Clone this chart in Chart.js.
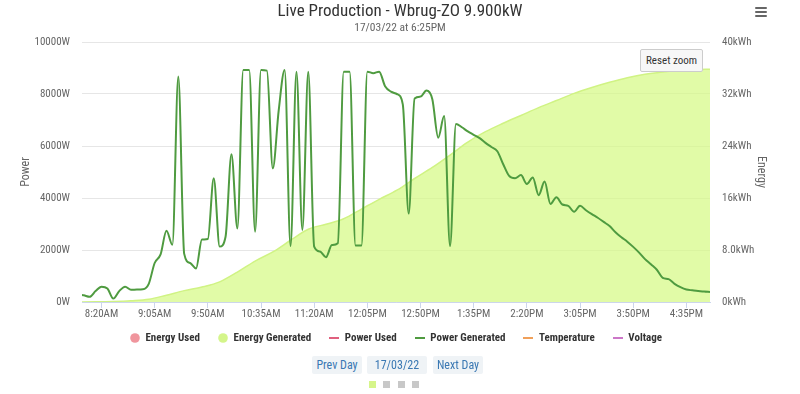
<!DOCTYPE html>
<html>
<head>
<meta charset="utf-8">
<script src="https://cdn.jsdelivr.net/npm/chart.js@4.4.1/dist/chart.umd.min.js"></script>
<style>
  html, body { margin: 0; padding: 0; background: #ffffff; }
  body { font-family: 'Roboto Condensed', 'Liberation Sans', Arial, sans-serif; }
  #wrap { position: relative; width: 800px; height: 394px; overflow: hidden; }
  #c { position: absolute; left: 0; top: 0; }
  .title { position: absolute; left: 0; top: 0; width: 800px; text-align: center; font-size: 17px; line-height: 21px; color: #333333; }
  .subtitle { position: absolute; left: 0; top: 20px; width: 800px; text-align: center; font-size: 11.5px; line-height: 14px; color: #666666; }
  .menu { position: absolute; left: 755px; top: 7px; width: 12px; }
  .menu div { height: 2px; background: #666666; margin-bottom: 2px; border-radius: 1px; }
  .reset { position: absolute; left: 640px; top: 49px; width: 61px; height: 21px; line-height: 21px; background: #f7f7f7; border: 1px solid #cccccc; border-radius: 2px; text-align: center; font-size: 11px; color: #333333; }
  .btn { position: absolute; top: 356px; height: 18px; line-height: 18px; background: #eff3f6; color: #3a78b3; font-size: 12px; text-align: center; border-radius: 2px; }
  .dot { position: absolute; top: 381px; width: 7px; height: 7px; background: #c8c8c8; }
</style>
</head>
<body>
<div id="wrap">
  <canvas id="c" width="800" height="394"></canvas>
  <div class="title">Live Production - Wbrug-ZO 9.900kW</div>
  <div class="subtitle">17/03/22 at 6:25PM</div>
  <div class="menu"><div></div><div></div><div></div></div>
  <div class="reset">Reset zoom</div>
  <div class="btn" style="left:312px;width:50px;">Prev Day</div>
  <div class="btn" style="left:367px;width:60px;">17/03/22</div>
  <div class="btn" style="left:433px;width:50px;">Next Day</div>
  <div class="dot" style="left:369px;background:#d6f58a;"></div>
  <div class="dot" style="left:383px;"></div>
  <div class="dot" style="left:398px;"></div>
  <div class="dot" style="left:412px;"></div>
</div>
<script>
// ---- data ----
const powerTimes = [
  "8:00","8:05","8:10","8:15","8:20","8:25","8:30","8:35","8:40","8:45","8:50","8:55",
  "9:00","9:05","9:10","9:15","9:20","9:25","9:30","9:35","9:40","9:45","9:50","9:55",
  "10:00","10:05","10:10","10:15","10:20","10:25","10:30","10:35","10:40","10:45","10:50","10:55",
  "11:00","11:05","11:10","11:15","11:20","11:25","11:30","11:35","11:40","11:45","11:50","11:55",
  "12:00","12:05","12:10","12:15","12:20","12:25","12:30","12:35","12:40","12:45","12:50","12:55",
  "13:00","13:05","13:10","13:15","13:20","13:25","13:30","13:35","13:40","13:45","13:50","13:55",
  "14:00","14:05","14:10","14:15","14:20","14:25","14:30","14:35","14:40","14:45","14:50","14:55",
  "15:00","15:05","15:10","15:15","15:20","15:25","15:30","15:35","15:40","15:45","15:50","15:55",
  "16:00","16:05","16:10","16:15","16:20","16:25","16:30","16:35","16:40","16:45","16:50","16:55"
];
const powerGenerated = [
  300, 260, 200, 420, 590, 520, 130, 420, 590, 470, 480, 490,
  700, 1500, 1830, 2740, 2200, 8670, 1850, 1500, 1290, 2400, 2420, 4760,
  2130, 2510, 5680, 2830, 8920, 8920, 2700, 8920, 8900, 5140, 7380, 8920,
  2150, 8860, 2770, 8860, 2130, 1940, 1720, 2190, 2260, 8860, 8860, 2170,
  2170, 8860, 8800, 8860, 8300, 8090, 8000, 7600, 3400, 7830, 7900, 8130,
  7800, 6320, 7150, 2150, 6850, 6720, 6560, 6430, 6300, 6120, 5960, 5800,
  5300, 4850, 4760, 4880, 4540, 4790, 4110, 4630, 3770, 4030, 3750, 3700,
  3470, 3700, 3530, 3380, 3240, 3080, 2920, 2680, 2490, 2320, 2120, 1900,
  1650, 1450, 1240, 930, 880, 700, 570, 480, 450, 425, 400, 385
];
const energyTimes = [
  "8:00","8:15","8:30","8:45","9:00","9:15","9:30","9:45","10:00","10:15","10:30","10:45",
  "11:00","11:15","11:30","11:45","12:00","12:15","12:30","12:45","13:00","13:15","13:30","13:45",
  "14:00","14:15","14:30","14:45","15:00","15:15","15:30","15:45","16:00","16:15","16:30","16:45","16:55"
];
const energyGenerated = [
  0.0, 0.02, 0.08, 0.2, 0.42, 1.05, 1.75, 2.3, 3.1, 4.6, 6.3, 7.7,
  9.5, 11.2, 11.95, 12.8, 14.3, 15.8, 17.2, 19.0, 20.7, 22.6, 24.6, 26.2,
  27.5, 28.7, 29.9, 31.0, 32.1, 33.0, 33.8, 34.5, 35.05, 35.4, 35.65, 35.78, 35.82
];
const xTickTimes  = ["8:20","9:05","9:50","10:35","11:20","12:05","12:50","13:35","14:20","15:05","15:50","16:35"];
const xTickLabels = ["8:20AM","9:05AM","9:50AM","10:35AM","11:20AM","12:05PM","12:50PM","1:35PM","2:20PM","3:05PM","3:50PM","4:35PM"];
const powerTickLabels  = ["0W","2000W","4000W","6000W","8000W","10000W"];
const energyTickLabels = ["0kWh","8.0kWh","16kWh","24kWh","32kWh","40kWh"];
const legendNames  = ["Energy Used","Energy Generated","Power Used","Power Generated","Temperature","Voltage"];

// ---- helpers ----
function toMin(s) { const p = s.split(":"); return (+p[0]) * 60 + (+p[1]); }
const FONT = "'Roboto Condensed', 'Liberation Sans', Arial, sans-serif";
Chart.defaults.font.family = FONT;
const LEG_FONT = 11, LEG_PAD = 18;

const COL = {
  energyUsed: '#f0959d', energyGen: '#d4f58a', powerUsed: '#e0607e',
  powerGen: '#4f9b40', temp: '#f0a05a', volt: '#cc77c8'
};

function marker(kind, color) {
  const c = document.createElement('canvas');
  c.width = 10; c.height = 10;
  const g = c.getContext('2d');
  g.fillStyle = color;
  if (kind === 'circle') { g.beginPath(); g.arc(5, 5, 4.8, 0, Math.PI * 2); g.fill(); }
  else { g.fillRect(0, 4, 10, 2); }
  return c;
}

const powerData = powerTimes.map((t, i) => ({ x: toMin(t), y: powerGenerated[i] }));
const energyData = energyTimes.map((t, i) => ({ x: toMin(t), y: energyGenerated[i] }));
const xTickValues = xTickTimes.map(toMin);

const legendSpec = [
  { ds: 2, kind: 'circle', color: COL.energyUsed },
  { ds: 1, kind: 'circle', color: COL.energyGen },
  { ds: 3, kind: 'line', color: COL.powerUsed },
  { ds: 0, kind: 'line', color: COL.powerGen },
  { ds: 4, kind: 'line', color: COL.temp },
  { ds: 5, kind: 'line', color: COL.volt }
];
const legendMarkers = legendSpec.map(s => marker(s.kind, s.color));

const legendShift = {
  id: 'legendShift',
  afterLayout(chart) {
    const lg = chart.legend;
    if (!lg) return;
    const cur = lg.top + LEG_PAD + LEG_FONT / 2;
    const d = cur - 338;
    lg.top -= d; lg.bottom -= d;
    lg.left -= 4; lg.right -= 4;
  }
};

new Chart(document.getElementById('c'), {
  type: 'line',
  plugins: [legendShift],
  data: {
    datasets: [
      { label: 'Power Generated', data: powerData, yAxisID: 'y', borderColor: COL.powerGen,
        borderWidth: 2, pointRadius: 0, fill: false, cubicInterpolationMode: 'monotone' },
      { label: 'Energy Generated', data: energyData, yAxisID: 'y1', borderColor: '#d0f384',
        backgroundColor: 'rgba(212,250,130,0.7)', borderWidth: 1.5, pointRadius: 0,
        fill: 'origin', cubicInterpolationMode: 'monotone' },
      { label: 'Energy Used', data: [], yAxisID: 'y1', borderColor: COL.energyUsed, pointRadius: 0 },
      { label: 'Power Used', data: [], yAxisID: 'y', borderColor: COL.powerUsed, pointRadius: 0 },
      { label: 'Temperature', data: [], yAxisID: 'y', borderColor: COL.temp, pointRadius: 0 },
      { label: 'Voltage', data: [], yAxisID: 'y', borderColor: COL.volt, pointRadius: 0 }
    ]
  },
  options: {
    responsive: false,
    animation: false,
    devicePixelRatio: 1,
    events: [],
    layout: { padding: { top: 42, left: 0, right: 0, bottom: 66 - (LEG_FONT + LEG_PAD + 10) } },
    scales: {
      x: {
        type: 'linear', min: 483.5, max: 1015,
        afterBuildTicks: (s) => { s.ticks = xTickValues.map(v => ({ value: v })); },
        afterFit: (s) => { s.height = 26; },
        ticks: { autoSkip: false, maxRotation: 0, padding: 0, color: '#666666',
                 font: { size: 11 }, callback: (v, i) => xTickLabels[i] },
        grid: { drawOnChartArea: false, drawTicks: true, tickLength: 6, color: '#ccd6eb' },
        border: { display: true, color: '#ccd6eb' }
      },
      y: {
        position: 'left', min: 0, max: 10000,
        ticks: { stepSize: 2000, padding: 12, color: '#666666', font: { size: 11 },
                 callback: (v, i) => powerTickLabels[i] },
        grid: { color: '#e6e6e6', drawTicks: false },
        border: { display: false },
        title: { display: true, text: 'Power', color: '#666666', font: { size: 12 },
                 padding: { top: 19, bottom: 0 } },
        afterFit: (s) => { s.width = 82; }
      },
      y1: {
        position: 'right', min: 0, max: 40,
        ticks: { stepSize: 8, padding: 12, color: '#666666', font: { size: 11 },
                 callback: (v, i) => energyTickLabels[i] },
        grid: { drawOnChartArea: false, drawTicks: false },
        border: { display: false },
        title: { display: true, text: 'Energy', color: '#666666', font: { size: 12 },
                 padding: { top: 32, bottom: 0 } },
        afterFit: (s) => { s.width = 90; }
      }
    },
    plugins: {
      tooltip: { enabled: false },
      legend: {
        position: 'bottom',
        labels: {
          usePointStyle: true, pointStyleWidth: 10, boxHeight: LEG_FONT, padding: LEG_PAD,
          color: '#333333', font: { size: LEG_FONT, weight: 'bold' },
          generateLabels: () => legendSpec.map((s, i) => ({
            text: legendNames[i], fillStyle: s.color, strokeStyle: s.color, lineWidth: 0,
            pointStyle: legendMarkers[i], hidden: false, datasetIndex: s.ds, fontColor: '#333333'
          }))
        }
      }
    }
  }
});
</script>
</body>
</html>
